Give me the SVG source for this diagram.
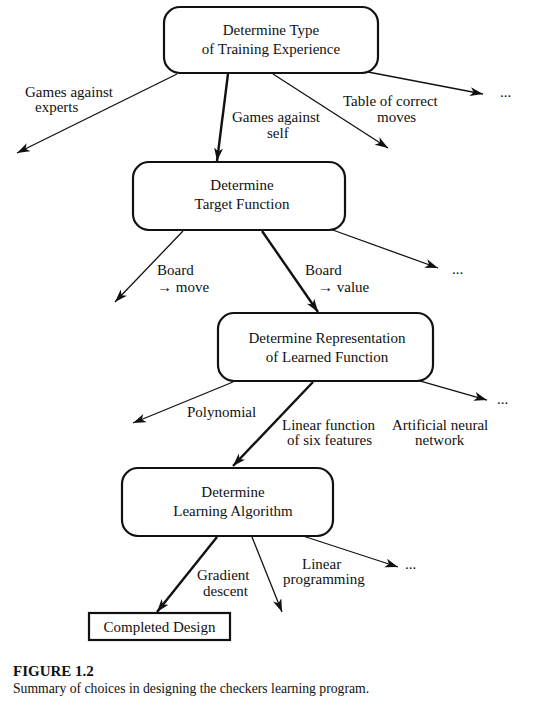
<svg xmlns="http://www.w3.org/2000/svg" width="539" height="709" viewBox="0 0 539 709">
<style>
text{font-family:"Liberation Serif","Times New Roman",serif;font-size:15px;fill:#111}
.c{text-anchor:middle}
.node{fill:#fff;stroke:#111;stroke-width:2.2}
.thin{stroke:#111;stroke-width:1.3;fill:none}
.bold{stroke:#111;stroke-width:2.4;fill:none}
.cap{font-size:13.7px}
.capb{font-size:15px;font-weight:bold}
</style>
<defs>
<marker id="ah" markerUnits="userSpaceOnUse" markerWidth="14" markerHeight="10" refX="13" refY="4.5" orient="auto">
<path d="M0,0 L13,4.5 L0,9 L3.5,4.5 z" fill="#111"/>
</marker>
</defs>
<rect width="539" height="709" fill="#fff"/>
<g id="connectors">
<line class="thin" x1="177" y1="74" x2="17" y2="153" marker-end="url(#ah)"/>
<line class="bold" x1="228" y1="74" x2="217" y2="161" marker-end="url(#ah)"/>
<line class="thin" x1="273" y1="74" x2="388" y2="148" marker-end="url(#ah)"/>
<line class="thin" x1="368" y1="72" x2="483" y2="94" marker-end="url(#ah)"/>
<line class="thin" x1="183" y1="231" x2="115" y2="302" marker-end="url(#ah)"/>
<line class="bold" x1="262" y1="231" x2="318" y2="312" marker-end="url(#ah)"/>
<line class="thin" x1="330" y1="229" x2="438" y2="268" marker-end="url(#ah)"/>
<line class="thin" x1="233" y1="382" x2="133" y2="423" marker-end="url(#ah)"/>
<line class="bold" x1="313" y1="382" x2="233" y2="466" marker-end="url(#ah)"/>
<line class="thin" x1="417" y1="380" x2="487" y2="400" marker-end="url(#ah)"/>
<line class="bold" x1="217" y1="537" x2="157" y2="612" marker-end="url(#ah)"/>
<line class="thin" x1="252" y1="537" x2="282" y2="612" marker-end="url(#ah)"/>
<line class="thin" x1="303" y1="536" x2="398" y2="567" marker-end="url(#ah)"/>
</g>
<g id="labels">
<text x="25" y="97">Games against</text>
<text x="35" y="112">experts</text>
<text x="232" y="122">Games against</text>
<text x="267" y="138">self</text>
<text x="343" y="106">Table of correct</text>
<text x="377" y="122">moves</text>
<text x="500" y="97">...</text>
<text x="157" y="275">Board</text>
<text x="157" y="292">→ move</text>
<text x="305" y="275">Board</text>
<text x="318" y="292">→ value</text>
<text x="452" y="274">...</text>
<text x="187" y="417">Polynomial</text>
<text x="282" y="430">Linear function</text>
<text x="287" y="445">of six features</text>
<text x="392" y="430">Artificial neural</text>
<text x="415" y="445">network</text>
<text x="497" y="404">...</text>
<text x="197" y="580">Gradient</text>
<text x="203" y="596">descent</text>
<text x="302" y="569">Linear</text>
<text x="283" y="584">programming</text>
<text x="405" y="569">...</text>
</g>
<g id="n1">
<rect class="node" x="164" y="7" width="214" height="66" rx="16"/>
<text class="c" x="271" y="35">Determine Type</text>
<text class="c" x="271" y="54">of Training Experience</text>
</g>
<g id="n2">
<rect class="node" x="133" y="162" width="212" height="68" rx="16"/>
<text class="c" x="242" y="190">Determine</text>
<text class="c" x="242" y="209">Target Function</text>
</g>
<g id="n3">
<rect class="node" x="218" y="313" width="215" height="68" rx="16"/>
<text class="c" x="327" y="343">Determine Representation</text>
<text class="c" x="327" y="362">of Learned Function</text>
</g>
<g id="n4">
<rect class="node" x="122" y="468" width="211" height="68" rx="16"/>
<text class="c" x="233" y="497">Determine</text>
<text class="c" x="233" y="516">Learning Algorithm</text>
</g>
<g id="n5">
<rect class="node" x="89" y="613" width="141" height="27" stroke-width="1.8"/>
<text class="c" x="159.5" y="632">Completed Design</text>
</g>
<g id="caption">
<text class="capb" x="13" y="676">FIGURE 1.2</text>
<text class="cap" x="13" y="693">Summary of choices in designing the checkers learning program.</text>
</g>
</svg>
